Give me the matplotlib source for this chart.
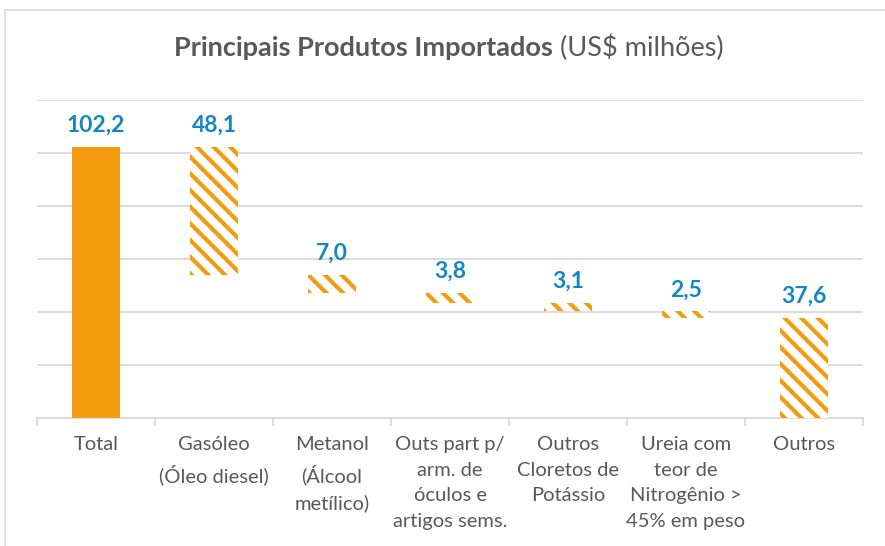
import matplotlib
matplotlib.use("Agg")
import matplotlib.pyplot as plt
from matplotlib.patches import Rectangle
import numpy as np

# dados (US$ milhões)
categorias = ["Total", "Gasóleo\n(Óleo diesel)", "Metanol\n(Álcool\nmetílico)",
              "Outs part p/\narm. de\nóculos e\nartigos sems.",
              "Outros\nCloretos de\nPotássio",
              "Ureia com\nteor de\nNitrogênio >\n45% em peso", "Outros"]
total = 102.2
parcelas = [48.1, 7.0, 3.8, 3.1, 2.5, 37.6]
rotulos = ["102,2", "48,1", "7,0", "3,8", "3,1", "2,5", "37,6"]

laranja = "#F39C0F"
azul = "#1486C4"
cinza = "#595959"
grade = "#D9D9D9"

plt.rcParams['font.family'] = ['Lato', 'DejaVu Sans']
plt.rcParams['hatch.linewidth'] = 3.0
plt.rcParams['hatch.color'] = laranja

fig = plt.figure(figsize=(8.85, 5.46), dpi=100)
ax = fig.add_axes([37/885, 128/546, 826/885, 318/546])

x = np.arange(len(categorias))
w = 0.4

# barra total
ax.bar(x[0], total, width=w, color=laranja, zorder=3)

# cascata
topos = total - np.concatenate([[0], np.cumsum(parcelas)[:-1]])
bases = topos - np.array(parcelas)
bases[-1] = 0
alturas = topos - bases
ax.bar(x[1:], alturas, bottom=bases, width=w, facecolor="white",
       edgecolor=laranja, hatch="\\\\", linewidth=0, zorder=3)

tops = np.concatenate([[total], topos])
for xi, t, r in zip(x, tops, rotulos):
    ax.annotate(r, (xi, t), xytext=(0, 8), textcoords="offset points",
                ha="center", va="bottom", color=azul, fontsize=16.5,
                fontweight="bold")

ax.set_xlim(-0.5, len(categorias) - 0.5)
ax.set_ylim(0, 120)
ax.set_yticks(np.arange(20, 121, 20))
ax.yaxis.grid(True, color=grade, linewidth=1.3, zorder=0)
ax.tick_params(axis="y", length=0, labelleft=False)
for s in ["top", "right", "left"]:
    ax.spines[s].set_visible(False)
ax.spines["bottom"].set_color(grade)
ax.spines["bottom"].set_linewidth(1.3)

ax.set_xticks(np.arange(-0.5, len(categorias), 1))
ax.set_xticklabels([])
ax.tick_params(axis="x", which="major", length=6, color=grade, width=1.3)
ax.set_xticks(x, minor=True)
ax.set_xticklabels(categorias, minor=True, fontsize=14.5, color=cinza,
                   linespacing=1.62, va="top", multialignment="center")
ax.tick_params(axis="x", which="minor", length=0, pad=13)

t1 = fig.text(0.5, 0.912, "Principais Produtos Importados ", ha="left",
              va="center", fontsize=19.5, fontweight="bold", color=cinza)
t2 = fig.text(0.5, 0.912, "(US$ milhões)", ha="left", va="center",
              fontsize=19.5, color=cinza)
fig.canvas.draw()
bb = t1.get_window_extent()
bb2 = t2.get_window_extent()
esq = 449 - (bb.width + bb2.width) / 2
t1.set_x(esq / 885)
t2.set_x((esq + bb.width) / 885)

fig.patches.append(Rectangle((5/885, -0.2), 1.2, (536/546) + 0.2,
                             transform=fig.transFigure, fill=False,
                             edgecolor=grade, linewidth=1.2))

fig.savefig("out.png", dpi=100)
